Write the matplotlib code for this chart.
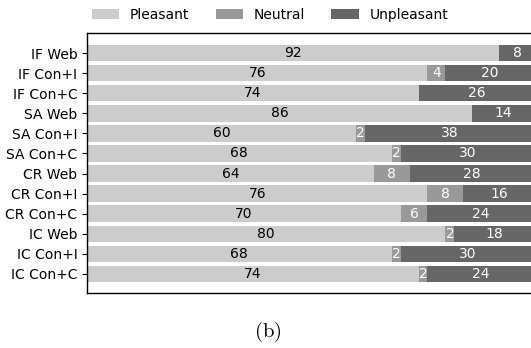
import numpy as np
import matplotlib
matplotlib.use("Agg")
import matplotlib.pyplot as plt

plt.rcParams["mathtext.fontset"] = "cm"

conditions = ["IF Web", "IF Con+I", "IF Con+C", "SA Web", "SA Con+I", "SA Con+C",
              "CR Web", "CR Con+I", "CR Con+C", "IC Web", "IC Con+I", "IC Con+C"]
pleasant = [92, 76, 74, 86, 60, 68, 64, 76, 70, 80, 68, 74]
neutral = [0, 4, 0, 0, 2, 2, 8, 8, 6, 2, 2, 2]
unpleasant = [8, 20, 26, 14, 38, 30, 28, 16, 24, 18, 30, 24]

series = [("Pleasant", pleasant, "#cccccc", "black"),
          ("Neutral", neutral, "#999999", "white"),
          ("Unpleasant", unpleasant, "#666666", "white")]

fig = plt.figure(figsize=(5.31, 3.48), dpi=100)
ax = fig.add_axes([87 / 531, 1 - 293 / 348, 448 / 531, 260 / 348])

y = np.arange(len(conditions))
left = np.zeros(len(conditions))
for name, vals, color, tcolor in series:
    vals = np.array(vals, dtype=float)
    ax.barh(y, vals, left=left, height=0.82, color=color, label=name)
    for yi, (l, v) in enumerate(zip(left, vals)):
        if v > 0:
            ax.text(l + v / 2, yi, "%d" % v, ha="center", va="center",
                    color=tcolor, fontsize=10)
    left += vals

ax.set_xlim(0, 100)
ax.set_ylim(len(conditions) - 1 + 0.95, -1.0)
ax.set_yticks(y)
ax.set_yticklabels(conditions, fontsize=10)
ax.set_xticks([])
for sp in ax.spines.values():
    sp.set_linewidth(1.0)

fig.legend(loc="center", bbox_to_anchor=(270 / 531, 0.958), ncol=3, frameon=False,
           fontsize=10, handlelength=2.0, handleheight=0.7, columnspacing=1.9,
           handletextpad=0.75)

fig.text(268 / 531, 1 - 332 / 348, r"$\mathrm{(b)}$", ha="center", va="center",
         fontsize=15)

fig.savefig("out.png", dpi=100)
